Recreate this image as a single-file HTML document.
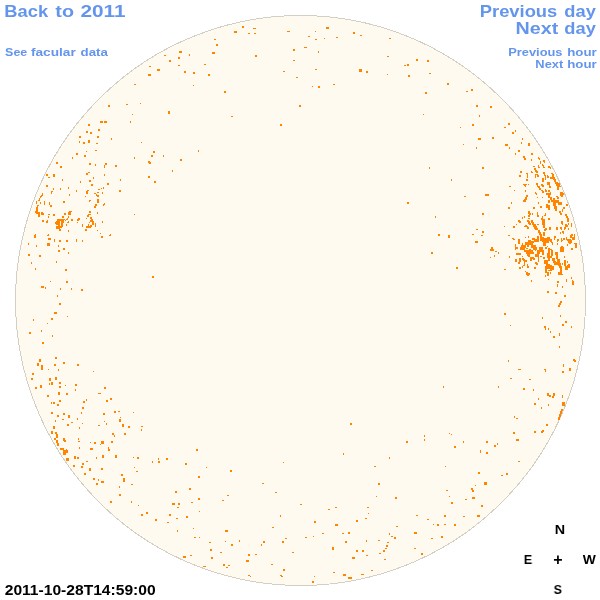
<!DOCTYPE html>
<html>
<head>
<meta charset="utf-8">
<title>Facular data 2011-10-28T14:59:00</title>
<style>
html,body{margin:0;padding:0;background:#fff;}
body{width:600px;height:600px;position:relative;overflow:hidden;font-family:"Liberation Sans",sans-serif;font-weight:bold;}
#disk{position:absolute;left:0;top:0;width:600px;height:600px;}
.t{position:absolute;left:0;top:0;white-space:nowrap;line-height:1;transform-origin:0 0;will-change:transform;}
a{color:#6495ed;text-decoration:none;}
.big{font-size:16.5px;}
.small{font-size:11.5px;}
.k{color:#000;font-size:13.3px;}
</style>
</head>
<body>
<svg id="disk" viewBox="0 0 600 600" shape-rendering="auto">
<circle cx="300.5" cy="300.5" r="285" fill="#fffaf0" stroke="#d4cfc4" stroke-width="1" shape-rendering="crispEdges"/>
<g id="dots" fill="#ff8400" shape-rendering="crispEdges"><path d="M179 51h3v2h-3zM164 55h2v1h-2zM189 54h1v2h-1zM178 57h2v2h-2zM169 60h2v2h-2zM178 65h2v1h-2zM149 66h2v1h-2zM157 69h3v2h-3zM184 71h2v2h-2zM193 72h2v2h-2zM148 74h3v2h-3zM134 84h2v1h-2zM193 85h1v1h-1zM86 151h1v1h-1zM95 150h2v1h-2zM76 153h2v2h-2zM84 155h2v2h-2zM72 157h1v2h-1zM56 162h2v2h-2zM60 166h2v2h-2zM89 163h2v2h-2zM95 164h1v2h-1zM86 173h2v2h-2zM88 172h2v1h-2zM46 174h2v2h-2zM48 177h2v1h-2zM53 174h2v3h-2zM62 179h1v2h-1zM93 177h1v2h-1zM80 181h1v2h-1zM89 180h2v2h-2zM91 184h2v2h-2zM46 185h2v2h-2zM53 188h1v2h-1zM60 188h1v2h-1zM68 187h1v2h-1zM98 189h2v1h-2zM54 239h1v3h-1zM59 240h2v2h-2zM66 240h2v2h-2zM76 239h1v3h-1zM82 240h1v2h-1zM28 243h1v2h-1zM36 245h1v2h-1zM47 243h3v3h-3zM58 245h1v2h-1zM63 248h2v2h-2zM88 124h2v2h-2zM98 129h2v2h-2zM86 131h2v2h-2zM90 132h2v2h-2zM79 136h2v2h-2zM97 136h2v2h-2zM79 141h1v2h-1zM83 142h2v2h-2zM88 140h2v3h-2zM96 143h2v1h-2zM58 250h2v2h-2zM68 252h1v2h-1zM28 254h2v2h-2zM39 255h2v2h-2zM31 262h1v2h-1zM56 261h1v2h-1zM35 268h1v2h-1zM65 269h2v2h-2zM50 281h1v1h-1zM66 281h2v2h-2zM41 286h3v2h-3zM45 287h1v2h-1zM60 288h1v2h-1zM71 288h1v2h-1zM81 289h2v2h-2zM57 295h1v2h-1zM59 303h2v2h-2zM54 312h3v2h-3zM67 316h1v1h-1zM51 318h2v2h-2zM33 319h1v2h-1zM47 323h1v1h-1zM41 330h1v2h-1zM29 332h2v2h-2zM52 335h1v2h-1zM42 342h2v2h-2zM55 357h2v2h-2zM39 359h2v3h-2zM63 362h2v2h-2zM37 363h2v3h-2zM54 364h2v2h-2zM77 364h2v2h-2zM41 365h2v5h-2zM48 369h1v1h-1zM58 369h1v2h-1zM93 371h1v1h-1zM32 373h2v2h-2zM31 378h2v2h-2zM49 378h2v3h-2zM55 377h2v3h-2zM51 382h2v3h-2zM49 383h1v2h-1zM59 382h2v2h-2zM59 386h2v2h-2zM65 385h1v1h-1zM75 384h2v2h-2zM40 385h2v3h-2zM35 387h2v2h-2zM75 389h1v2h-1zM58 392h2v3h-2zM66 393h2v2h-2zM98 393h2v1h-2zM47 395h2v2h-2zM59 400h2v2h-2zM86 399h1v2h-1zM83 401h2v2h-2zM51 402h1v2h-1zM53 402h2v2h-2zM57 404h2v2h-2zM82 407h2v2h-2zM51 412h2v2h-2zM81 412h1v2h-1zM63 413h2v2h-2zM57 415h2v2h-2zM68 415h2v3h-2zM62 419h2v1h-2zM77 418h1v2h-1zM55 420h1v2h-1zM71 422h2v1h-2zM82 423h1v1h-1zM67 424h2v2h-2zM98 425h2v1h-2zM53 426h2v3h-2zM79 427h1v2h-1zM51 431h2v3h-2zM55 432h2v2h-2zM56 434h2v4h-2zM54 438h2v2h-2zM56 440h2v3h-2zM57 443h2v3h-2zM63 438h2v3h-2zM64 440h2v2h-2zM78 438h1v2h-1zM78 441h2v1h-2zM90 442h1v1h-1zM94 442h2v2h-2zM79 447h1v2h-1zM90 448h3v2h-3zM60 448h4v2h-4zM66 449h1v1h-1zM63 450h5v3h-5zM63 453h3v2h-3zM66 458h3v3h-3zM74 456h2v3h-2zM77 457h2v2h-2zM96 457h1v2h-1zM86 461h2v1h-2zM82 463h2v2h-2zM73 465h2v2h-2zM81 466h2v2h-2zM89 468h2v3h-2zM84 473h2v2h-2zM93 478h2v2h-2zM98 479h1v2h-1zM96 483h2v2h-2zM140 103h1v1h-1zM126 104h2v1h-2zM108 105h2v2h-2zM168 111h2v3h-2zM132 114h1v1h-1zM100 121h3v2h-3zM104 121h3v2h-3zM130 121h1v2h-1zM111 138h1v2h-1zM141 142h1v1h-1zM198 150h1v2h-1zM153 151h2v2h-2zM151 155h2v2h-2zM163 155h1v2h-1zM134 157h1v2h-1zM180 159h2v2h-2zM148 161h2v2h-2zM149 162h2v2h-2zM105 163h2v2h-2zM104 165h1v3h-1zM115 165h2v2h-2zM172 170h1v2h-1zM104 174h1v2h-1zM148 176h2v2h-2zM120 179h1v2h-1zM154 181h2v2h-2zM107 183h2v2h-2zM103 187h1v2h-1zM101 188h1v1h-1zM119 190h2v2h-2zM134 214h1v1h-1zM152 276h2v2h-2zM104 387h2v2h-2zM100 393h1v1h-1zM110 398h2v2h-2zM106 400h2v2h-2zM114 411h2v2h-2zM118 411h2v1h-2zM133 412h1v1h-1zM103 413h2v2h-2zM120 417h1v1h-1zM119 419h2v3h-2zM104 421h1v1h-1zM106 423h1v2h-1zM122 424h2v3h-2zM128 426h2v2h-2zM141 426h2v1h-2zM141 429h1v2h-1zM112 433h2v2h-2zM114 435h1v2h-1zM124 433h2v2h-2zM101 441h3v3h-3zM100 444h1v1h-1zM111 441h2v2h-2zM108 447h1v2h-1zM108 449h2v2h-2zM196 449h2v2h-2zM102 455h2v3h-2zM115 455h2v3h-2zM133 457h1v1h-1zM137 457h2v2h-2zM158 458h1v2h-1zM166 458h2v2h-2zM152 461h1v2h-1zM158 461h2v2h-2zM185 463h2v2h-2zM134 467h1v1h-1zM101 468h2v2h-2zM136 471h2v1h-2zM121 474h2v2h-2zM198 476h2v2h-2zM123 478h2v4h-2zM101 481h3v2h-3zM131 484h2v1h-2zM119 486h1v2h-1zM189 488h2v2h-2zM175 491h2v2h-2zM119 494h2v2h-2zM198 498h2v2h-2zM110 501h2v2h-2zM131 501h1v2h-1zM138 505h1v1h-1zM172 503h3v2h-3zM178 503h2v2h-2zM191 502h2v1h-2zM177 507h2v1h-2zM146 512h2v2h-2zM141 514h2v2h-2zM199 511h1v1h-1zM169 514h2v2h-2zM186 516h2v2h-2zM176 518h2v1h-2zM155 519h2v2h-2zM167 522h2v1h-2zM193 528h1v1h-1zM177 530h1v2h-1zM194 537h2v1h-2zM199 537h1v1h-1zM190 555h2v1h-2zM183 556h3v2h-3zM242 26h2v2h-2zM253 28h3v1h-3zM234 31h3v2h-3zM248 33h2v1h-2zM254 33h2v1h-2zM287 31h3v1h-3zM214 39h2v1h-2zM216 44h2v2h-2zM212 52h3v2h-3zM293 49h2v2h-2zM255 55h2v2h-2zM293 60h2v1h-2zM204 64h2v1h-2zM283 71h2v1h-2zM208 74h2v2h-2zM296 77h2v1h-2zM224 91h2v2h-2zM299 105h2v2h-2zM231 116h2v1h-2zM280 124h2v2h-2zM283 462h1v1h-1zM206 467h1v1h-1zM230 470h2v2h-2zM262 483h2v1h-2zM275 492h2v1h-2zM227 495h2v1h-2zM222 500h2v1h-2zM280 515h1v2h-1zM272 527h2v1h-2zM225 530h3v2h-3zM285 538h2v1h-2zM239 540h1v2h-1zM225 541h1v1h-1zM209 542h2v1h-2zM263 541h2v2h-2zM282 541h2v2h-2zM231 544h2v2h-2zM261 544h1v2h-1zM210 549h2v2h-2zM220 552h2v1h-2zM292 552h2v1h-2zM248 554h2v2h-2zM255 554h2v1h-2zM211 557h2v2h-2zM246 560h3v2h-3zM271 564h2v1h-2zM223 564h2v2h-2zM226 567h2v1h-2zM228 565h2v1h-2zM203 566h3v1h-3zM283 569h2v2h-2zM248 575h2v1h-2zM250 576h1v1h-1zM280 575h2v1h-2zM281 576h2v1h-2zM326 27h3v2h-3zM315 31h1v1h-1zM353 32h2v2h-2zM360 35h2v1h-2zM308 36h2v1h-2zM336 37h2v1h-2zM315 39h2v1h-2zM324 38h1v1h-1zM389 38h2v1h-2zM304 47h3v1h-3zM318 51h1v2h-1zM387 56h2v1h-2zM315 69h2v1h-2zM359 69h3v3h-3zM366 71h2v2h-2zM387 74h1v1h-1zM333 84h2v1h-2zM312 86h1v1h-1zM318 86h2v2h-2zM350 423h2v2h-2zM343 453h1v2h-1zM389 457h1v2h-1zM374 466h2v1h-2zM378 483h2v2h-2zM376 496h1v1h-1zM395 497h2v2h-2zM300 504h2v1h-2zM335 507h2v1h-2zM367 507h2v1h-2zM328 509h2v1h-2zM368 513h1v1h-1zM365 518h2v1h-2zM356 520h2v2h-2zM314 521h2v2h-2zM335 524h3v2h-3zM396 526h2v1h-2zM348 532h2v2h-2zM322 533h2v1h-2zM342 533h2v1h-2zM389 533h1v2h-1zM391 536h2v1h-2zM313 536h1v1h-1zM305 537h2v1h-2zM394 537h2v2h-2zM366 540h1v2h-1zM378 540h2v1h-2zM345 541h2v2h-2zM387 542h2v1h-2zM386 545h2v2h-2zM385 548h2v1h-2zM332 547h2v3h-2zM383 550h2v2h-2zM356 550h2v2h-2zM362 550h2v2h-2zM379 553h2v1h-2zM366 555h2v1h-2zM352 557h3v2h-3zM384 559h2v1h-2zM371 570h2v1h-2zM333 572h2v1h-2zM343 574h3v2h-3zM361 574h3v1h-3zM348 577h4v2h-4zM314 576h1v1h-1zM312 581h2v2h-2zM416 59h2v2h-2zM427 60h2v2h-2zM407 64h2v2h-2zM404 65h2v1h-2zM429 73h2v1h-2zM408 75h2v2h-2zM447 83h2v2h-2zM471 89h2v2h-2zM466 91h2v1h-2zM425 92h2v2h-2zM476 105h2v2h-2zM490 106h2v2h-2zM423 114h1v1h-1zM479 115h1v2h-1zM472 124h2v2h-2zM460 127h1v1h-1zM492 137h2v2h-2zM478 138h3v2h-3zM463 144h1v1h-1zM476 147h1v2h-1zM429 167h1v2h-1zM482 167h2v2h-2zM451 179h1v2h-1zM485 194h4v2h-4zM464 196h2v1h-2zM407 202h2v2h-2zM482 213h2v2h-2zM435 216h1v2h-1zM476 229h2v1h-2zM482 231h2v2h-2zM472 234h2v1h-2zM481 235h2v1h-2zM438 234h2v2h-2zM448 235h2v3h-2zM475 241h3v2h-3zM491 247h2v2h-2zM490 249h4v2h-4zM495 251h2v1h-2zM498 252h1v2h-1zM494 255h1v2h-1zM490 257h1v1h-1zM431 252h2v2h-2zM456 267h2v2h-2zM443 386h1v2h-1zM498 386h1v2h-1zM449 433h1v1h-1zM451 434h1v1h-1zM424 435h1v2h-1zM424 439h1v2h-1zM406 441h2v2h-2zM463 441h1v2h-1zM486 441h2v2h-2zM497 443h1v2h-1zM494 445h2v2h-2zM454 446h2v2h-2zM480 450h1v3h-1zM486 452h2v2h-2zM445 466h1v1h-1zM478 472h2v2h-2zM484 482h3v3h-3zM475 485h1v1h-1zM471 488h2v2h-2zM472 490h2v2h-2zM446 490h2v1h-2zM449 496h1v1h-1zM472 497h3v2h-3zM465 499h2v1h-2zM451 502h2v2h-2zM481 505h2v2h-2zM416 515h2v1h-2zM444 515h2v2h-2zM463 516h2v1h-2zM477 515h3v2h-3zM427 519h2v1h-2zM433 524h1v1h-1zM437 524h2v2h-2zM444 524h2v1h-2zM454 524h2v2h-2zM414 532h3v2h-3zM441 536h2v2h-2zM431 538h2v1h-2zM414 548h2v1h-2zM421 553h2v2h-2zM508 123h2v2h-2zM504 127h2v1h-2zM515 130h1v2h-1zM512 132h2v2h-2zM522 138h1v2h-1zM521 142h1v2h-1zM528 143h2v3h-2zM505 144h3v2h-3zM509 147h1v2h-1zM518 150h2v2h-2zM515 153h1v2h-1zM531 153h2v2h-2zM523 156h2v2h-2zM524 158h2v2h-2zM531 159h1v2h-1zM538 157h1v2h-1zM539 158h1v2h-1zM543 160h2v2h-2zM544 161h1v2h-1zM540 161h1v3h-1zM533 166h2v1h-2zM538 165h1v3h-1zM538 167h2v1h-2zM542 164h1v2h-1zM543 165h1v2h-1zM543 167h2v1h-2zM548 166h2v2h-2zM534 168h2v2h-2zM535 170h2v2h-2zM536 171h2v2h-2zM531 171h1v2h-1zM531 172h2v1h-2zM520 171h2v2h-2zM526 173h2v1h-2zM527 174h1v2h-1zM527 176h1v2h-1zM519 175h2v2h-2zM535 174h1v4h-1zM536 174h2v1h-2zM537 175h2v2h-2zM543 172h2v2h-2zM544 174h1v2h-1zM545 175h1v5h-1zM547 175h1v3h-1zM548 176h1v2h-1zM542 178h2v4h-2zM526 179h2v2h-2zM523 184h4v1h-4zM524 185h2v1h-2zM525 186h1v1h-1zM528 184h1v1h-1zM509 186h2v1h-2zM514 190h1v1h-1zM525 190h1v2h-1zM536 183h2v2h-2zM537 185h1v2h-1zM538 186h2v2h-2zM539 188h2v2h-2zM541 190h2v1h-2zM542 191h2v2h-2zM541 184h2v2h-2zM542 185h2v2h-2zM547 182h3v3h-3zM549 185h1v3h-1zM545 189h1v2h-1zM545 190h2v2h-2zM548 190h2v2h-2zM546 193h4v2h-4zM548 195h2v3h-2zM535 192h1v2h-1zM536 193h1v2h-1zM537 197h1v1h-1zM542 197h1v1h-1zM526 195h2v2h-2zM525 197h2v2h-2zM524 199h3v1h-3zM550 167h1v2h-1zM551 173h2v1h-2zM552 174h2v3h-2zM550 177h3v2h-3zM553 177h2v3h-2zM554 179h2v3h-2zM555 182h3v2h-3zM556 183h4v3h-4zM557 186h2v2h-2zM559 186h2v1h-2zM557 188h2v2h-2zM550 186h1v2h-1zM550 192h1v3h-1zM560 192h3v4h-3zM563 193h1v2h-1zM561 196h2v1h-2zM556 196h2v1h-2zM557 197h2v2h-2zM550 197h2v3h-2zM553 198h2v2h-2zM523 200h3v2h-3zM511 202h1v2h-1zM538 202h1v2h-1zM548 200h2v3h-2zM546 204h2v4h-2zM548 205h2v5h-2zM540 206h2v2h-2zM508 207h2v2h-2zM533 207h2v2h-2zM528 211h2v3h-2zM529 213h2v2h-2zM528 215h2v2h-2zM532 213h1v2h-1zM537 212h1v3h-1zM537 215h2v2h-2zM545 213h1v2h-1zM544 215h2v1h-2zM524 216h1v2h-1zM522 217h1v2h-1zM528 218h2v1h-2zM542 216h1v2h-1zM541 218h2v2h-2zM542 219h3v6h-3zM543 225h2v3h-2zM548 218h2v2h-2zM518 220h2v2h-2zM519 221h2v2h-2zM527 220h2v2h-2zM528 221h2v3h-2zM529 223h2v2h-2zM531 220h2v3h-2zM532 222h2v3h-2zM533 224h3v3h-3zM534 226h3v3h-3zM535 228h3v2h-3zM537 224h2v1h-2zM516 224h1v1h-1zM504 226h1v1h-1zM513 226h2v2h-2zM524 226h2v1h-2zM525 225h2v1h-2zM526 226h2v1h-2zM527 227h2v2h-2zM549 227h1v3h-1zM544 229h2v2h-2zM545 228h2v2h-2zM538 230h2v3h-2zM539 232h2v3h-2zM543 232h2v4h-2zM540 234h2v3h-2zM508 235h2v1h-2zM528 236h1v2h-1zM525 237h1v1h-1zM512 238h2v1h-2zM513 239h2v1h-2zM537 236h2v4h-2zM518 239h2v5h-2zM532 238h3v2h-3zM534 239h5v3h-5zM540 237h4v4h-4zM542 238h6v4h-6zM547 237h3v4h-3zM543 242h3v4h-3zM546 241h3v2h-3zM528 240h3v2h-3zM525 242h8v3h-8zM531 241h3v2h-3zM522 243h1v3h-1zM521 245h5v3h-5zM520 247h5v3h-5zM515 244h1v6h-1zM516 247h2v2h-2zM531 245h5v3h-5zM533 247h4v3h-4zM527 244h2v3h-2zM539 247h4v3h-4zM545 247h2v2h-2zM547 246h1v1h-1zM548 248h2v2h-2zM529 249h2v1h-2zM526 248h2v1h-2zM551 200h5v2h-5zM553 202h3v4h-3zM554 206h3v3h-3zM555 209h2v2h-2zM556 200h3v3h-3zM558 202h4v3h-4zM566 204h2v2h-2zM563 207h2v2h-2zM562 209h1v3h-1zM559 211h2v2h-2zM560 213h2v2h-2zM565 214h2v2h-2zM566 216h2v2h-2zM567 218h2v4h-2zM561 221h2v3h-2zM562 223h1v2h-1zM571 223h1v4h-1zM568 223h1v2h-1zM565 224h2v3h-2zM566 225h2v2h-2zM564 227h2v2h-2zM564 228h1v2h-1zM550 227h1v3h-1zM556 227h2v3h-2zM560 227h2v2h-2zM561 228h1v2h-1zM568 228h1v2h-1zM562 231h2v2h-2zM563 232h1v2h-1zM560 232h1v2h-1zM571 234h2v2h-2zM570 235h2v3h-2zM574 234h1v5h-1zM572 237h3v3h-3zM566 237h1v3h-1zM567 239h4v2h-4zM568 240h4v3h-4zM569 242h2v2h-2zM554 236h2v2h-2zM554 237h1v3h-1zM550 239h2v3h-2zM551 241h1v2h-1zM552 242h1v3h-1zM557 239h2v2h-2zM557 240h1v2h-1zM561 238h1v4h-1zM562 240h1v1h-1zM563 238h2v2h-2zM557 243h1v2h-1zM567 244h1v2h-1zM574 243h3v1h-3zM575 244h2v4h-2zM561 246h2v2h-2zM560 247h4v3h-4zM571 248h2v2h-2zM550 249h2v1h-2zM524 250h9v2h-9zM526 252h8v2h-8zM527 254h3v2h-3zM528 255h2v2h-2zM535 250h1v1h-1zM537 250h3v4h-3zM535 254h4v3h-4zM540 250h4v2h-4zM542 252h2v3h-2zM548 250h2v3h-2zM547 253h3v5h-3zM540 256h2v1h-2zM516 253h5v2h-5zM509 256h1v2h-1zM522 256h1v1h-1zM543 257h2v2h-2zM530 257h4v2h-4zM530 259h2v2h-2zM533 258h2v2h-2zM538 257h1v5h-1zM519 258h2v4h-2zM518 262h2v2h-2zM515 259h2v3h-2zM522 258h2v2h-2zM523 259h2v2h-2zM524 260h3v2h-3zM524 262h1v4h-1zM522 266h1v2h-1zM523 265h1v1h-1zM544 260h4v4h-4zM548 258h2v3h-2zM535 262h2v2h-2zM536 263h2v2h-2zM527 264h1v2h-1zM527 266h2v2h-2zM546 264h4v2h-4zM545 266h5v3h-5zM545 269h2v4h-2zM547 272h2v4h-2zM548 270h2v1h-2zM519 267h2v2h-2zM534 267h2v2h-2zM504 269h2v1h-2zM525 271h1v1h-1zM526 272h2v1h-2zM526 273h4v2h-4zM527 275h2v1h-2zM545 275h1v2h-1zM531 280h1v2h-1zM548 279h1v1h-1zM547 291h2v2h-2zM551 250h2v6h-2zM550 256h2v2h-2zM555 252h3v3h-3zM556 255h2v4h-2zM560 250h4v2h-4zM564 256h1v2h-1zM552 258h3v3h-3zM553 261h3v2h-3zM554 262h4v3h-4zM557 259h3v4h-3zM558 263h3v3h-3zM559 266h3v2h-3zM560 268h2v5h-2zM558 272h4v3h-4zM561 274h2v1h-2zM562 263h1v2h-1zM564 260h2v6h-2zM567 261h1v2h-1zM565 266h3v4h-3zM567 265h3v3h-3zM568 264h2v2h-2zM550 265h2v6h-2zM552 266h2v4h-2zM550 272h1v2h-1zM571 277h1v2h-1zM572 280h1v2h-1zM572 281h2v4h-2zM566 279h1v3h-1zM557 281h2v2h-2zM557 284h1v3h-1zM562 286h1v2h-1zM555 292h2v2h-2zM564 295h2v2h-2zM560 301h2v2h-2zM559 303h2v2h-2zM558 305h2v2h-2zM504 313h2v2h-2zM542 317h1v2h-1zM560 315h1v2h-1zM565 321h2v2h-2zM562 324h2v2h-2zM510 325h1v1h-1zM571 326h1v2h-1zM544 326h2v2h-2zM545 328h1v2h-1zM548 328h1v2h-1zM550 331h1v2h-1zM559 333h1v3h-1zM553 336h2v2h-2zM559 346h1v2h-1zM573 359h2v2h-2zM574 360h2v2h-2zM508 360h1v2h-1zM563 364h1v3h-1zM518 369h3v1h-3zM544 369h2v1h-2zM545 370h1v2h-1zM569 368h2v3h-2zM562 371h2v2h-2zM510 378h2v1h-2zM529 379h2v1h-2zM523 388h2v2h-2zM533 389h1v2h-1zM547 393h2v3h-2zM549 395h2v2h-2zM553 393h2v3h-2zM552 396h2v2h-2zM562 395h1v3h-1zM538 398h1v2h-1zM534 403h2v2h-2zM548 404h1v2h-1zM541 407h1v2h-1zM562 402h3v4h-3zM561 409h2v2h-2zM560 411h2v3h-2zM559 414h2v3h-2zM558 417h2v3h-2zM514 416h1v2h-1zM516 418h2v1h-2zM546 424h2v2h-2zM534 431h2v2h-2zM542 430h2v2h-2zM541 431h2v2h-2zM513 432h2v2h-2zM516 439h3v2h-3zM518 461h2v1h-2zM506 473h2v2h-2zM501 475h2v1h-2zM51 191h2v1h-2zM51 192h1v2h-1zM76 190h1v2h-1zM69 194h1v2h-1zM42 193h1v3h-1zM41 195h1v2h-1zM40 196h1v2h-1zM39 198h1v2h-1zM38 200h2v1h-2zM36 201h1v3h-1zM40 202h1v2h-1zM44 201h1v4h-1zM49 202h1v3h-1zM50 205h2v2h-2zM63 201h2v2h-2zM37 205h2v1h-2zM37 206h1v2h-1zM36 207h2v4h-2zM35 211h3v2h-3zM36 212h4v2h-4zM38 214h2v3h-2zM41 212h2v3h-2zM42 213h2v2h-2zM48 214h2v1h-2zM48 216h1v2h-1zM53 214h2v2h-2zM64 213h2v2h-2zM69 211h3v1h-3zM68 212h3v3h-3zM62 216h2v2h-2zM68 216h1v2h-1zM78 218h2v2h-2zM77 219h2v2h-2zM71 219h2v2h-2zM42 220h2v2h-2zM47 220h1v1h-1zM46 221h2v2h-2zM57 219h3v2h-3zM56 221h4v4h-4zM55 222h2v2h-2zM58 219h2v10h-2zM56 226h4v3h-4zM59 229h2v2h-2zM61 220h2v7h-2zM62 219h2v4h-2zM60 226h2v2h-2zM60 219h2v2h-2zM64 219h1v1h-1zM65 220h1v1h-1zM66 219h1v1h-1zM67 218h1v2h-1zM68 221h1v2h-1zM67 222h2v1h-2zM77 222h1v1h-1zM66 224h1v2h-1zM68 230h1v2h-1zM35 234h1v2h-1zM34 235h2v3h-2zM48 234h1v1h-1zM47 235h2v1h-2zM48 238h3v2h-3zM54 239h1v1h-1zM76 239h1v1h-1zM87 190h2v1h-2zM86 191h2v3h-2zM102 192h1v2h-1zM119 190h1v2h-1zM94 193h2v1h-2zM97 192h2v1h-2zM96 194h1v2h-1zM97 195h2v2h-2zM85 196h1v1h-1zM89 200h2v1h-2zM89 201h1v1h-1zM97 199h2v2h-2zM97 200h1v3h-1zM98 201h1v2h-1zM104 203h1v1h-1zM103 204h2v1h-2zM103 205h1v1h-1zM95 204h2v2h-2zM94 206h2v2h-2zM89 211h2v2h-2zM97 212h1v2h-1zM88 214h3v1h-3zM87 215h2v2h-2zM86 218h1v1h-1zM90 217h2v2h-2zM91 219h2v3h-2zM90 220h2v2h-2zM92 221h2v2h-2zM89 222h1v1h-1zM92 223h2v2h-2zM102 221h1v2h-1zM95 223h1v4h-1zM82 224h1v3h-1zM88 224h1v2h-1zM86 226h5v2h-5zM90 225h2v2h-2zM85 229h2v2h-2zM97 230h1v1h-1zM100 233h1v1h-1zM110 234h1v1h-1zM109 235h2v1h-2zM101 236h2v2h-2z"/></g>
</svg>
<a id="t1" href="#"><span class="t big" style="transform:translate(4.35px,3px) scaleX(1.111)">Back</span> <span class="t big" style="transform:translate(55.3px,3px) scaleX(1.197)">to</span> <span class="t big" style="transform:translate(80.46px,3px) scaleX(1.259)">2011</span></a>
<a id="t2" href="#"><span class="t small" style="transform:translate(5.09px,47px) scaleX(1.085)">See</span> <span class="t small" style="transform:translate(30.9px,47px) scaleX(1.189)">facular</span> <span class="t small" style="transform:translate(80.62px,47px) scaleX(1.153)">data</span></a>
<a id="t3" href="#"><span class="t big" style="transform:translate(479.75px,3px) scaleX(1.112)">Previous</span> <span class="t big" style="transform:translate(564.31px,3px) scaleX(1.108)">day</span></a>
<a id="t4" href="#"><span class="t big" style="transform:translate(515.56px,20px) scaleX(1.194)">Next</span> <span class="t big" style="transform:translate(564.31px,20px) scaleX(1.108)">day</span></a>
<a id="t5" href="#"><span class="t small" style="transform:translate(508.16px,47px) scaleX(1.119)">Previous</span> <span class="t small" style="transform:translate(567.13px,47px) scaleX(1.157)">hour</span></a>
<a id="t6" href="#"><span class="t small" style="transform:translate(535.36px,59px) scaleX(1.117)">Next</span> <span class="t small" style="transform:translate(567.13px,59px) scaleX(1.157)">hour</span></a>
<div id="t7"><span class="t k" style="font-size:13.8px;transform:translate(4.7px,584px) scaleX(1.131)">2011-10-28T14:59:00</span></div>
<div id="compass"><span class="t k" style="transform:translate(554.86px,523px) scaleX(1.079)">N</span>
<span class="t k" style="transform:translate(523.77px,553px) scaleX(0.947)">E</span>
<span class="t k" style="transform:translate(582.7px,553px) scaleX(1.04)">W</span>
<span class="t k" style="transform:translate(553.65px,583px) scaleX(0.938)">S</span>
<span class="t k" id="p" style="transform:translate(553.2px,551.5px);font-size:16px;">+</span></div>
</body>
</html>
